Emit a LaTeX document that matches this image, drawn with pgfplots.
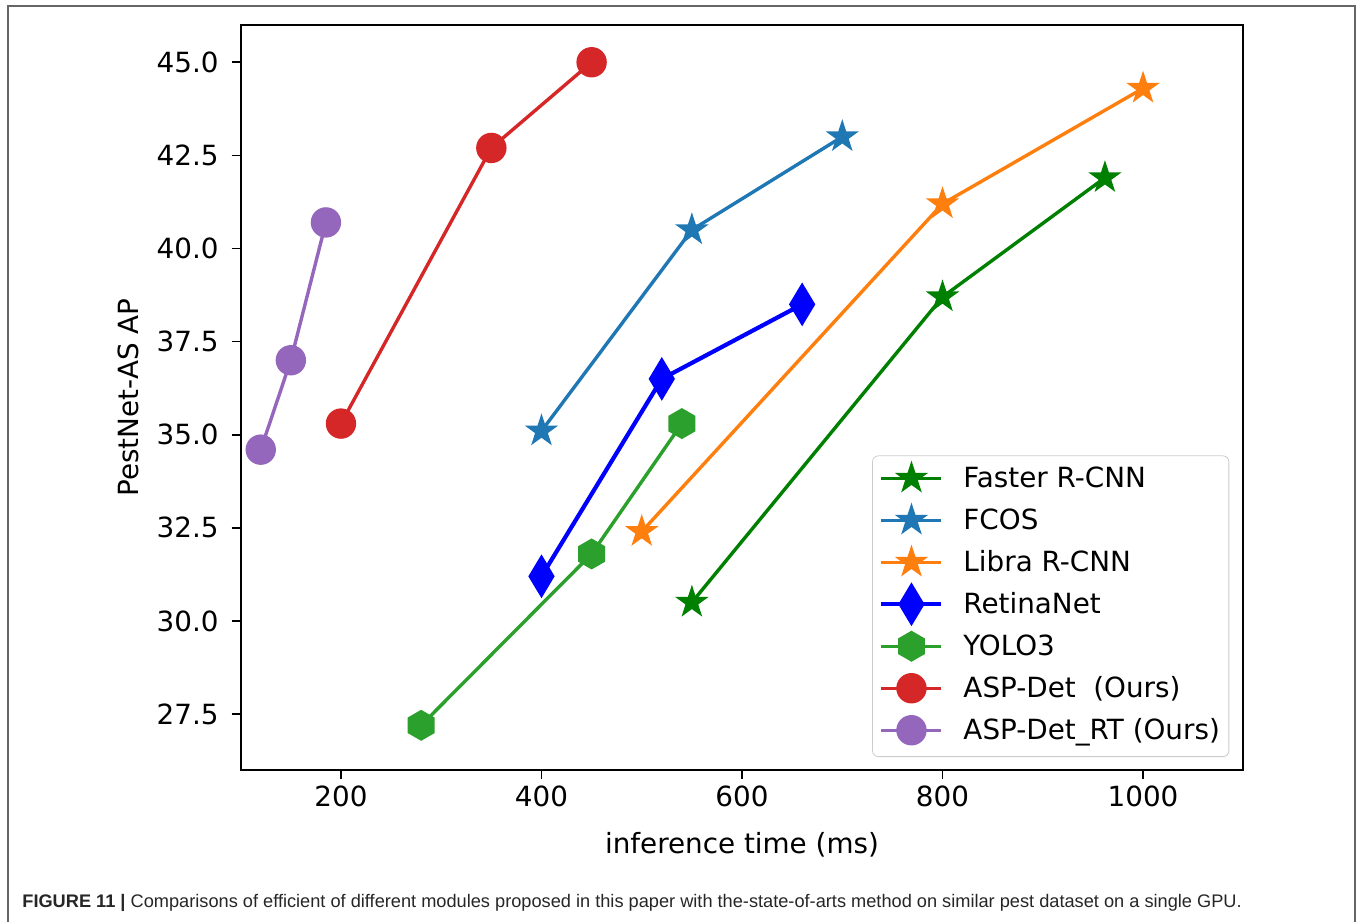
\documentclass[border=0pt]{standalone}
\usepackage{pgfplots}
\pgfplotsset{compat=1.18}
\usepackage{fontspec}
\setmainfont{DejaVu Sans}
\newfontfamily\capfont{Liberation Sans}
\usetikzlibrary{plotmarks}

\definecolor{mplgreen}{HTML}{008000}
\definecolor{tabblue}{HTML}{1F77B4}
\definecolor{taborange}{HTML}{FF7F0E}
\definecolor{mplblue}{HTML}{0000FF}
\definecolor{tabgreen}{HTML}{2CA02C}
\definecolor{tabred}{HTML}{D62728}
\definecolor{tabpurple}{HTML}{9467BD}

% filled five-pointed star (matplotlib '*')
\pgfdeclareplotmark{fstar}{%
  \pgfpathmoveto{\pgfpointpolar{90}{\pgfplotmarksize}}%
  \pgfpathlineto{\pgfpointpolar{126}{0.382\pgfplotmarksize}}%
  \pgfpathlineto{\pgfpointpolar{162}{\pgfplotmarksize}}%
  \pgfpathlineto{\pgfpointpolar{198}{0.382\pgfplotmarksize}}%
  \pgfpathlineto{\pgfpointpolar{234}{\pgfplotmarksize}}%
  \pgfpathlineto{\pgfpointpolar{270}{0.382\pgfplotmarksize}}%
  \pgfpathlineto{\pgfpointpolar{306}{\pgfplotmarksize}}%
  \pgfpathlineto{\pgfpointpolar{342}{0.382\pgfplotmarksize}}%
  \pgfpathlineto{\pgfpointpolar{18}{\pgfplotmarksize}}%
  \pgfpathlineto{\pgfpointpolar{54}{0.382\pgfplotmarksize}}%
  \pgfpathclose
  \pgfusepathqfillstroke
}
% filled hexagon, vertex up (matplotlib 'h')
\pgfdeclareplotmark{fhex}{%
  \pgfpathmoveto{\pgfpointpolar{90}{\pgfplotmarksize}}%
  \pgfpathlineto{\pgfpointpolar{150}{\pgfplotmarksize}}%
  \pgfpathlineto{\pgfpointpolar{210}{\pgfplotmarksize}}%
  \pgfpathlineto{\pgfpointpolar{270}{\pgfplotmarksize}}%
  \pgfpathlineto{\pgfpointpolar{330}{\pgfplotmarksize}}%
  \pgfpathlineto{\pgfpointpolar{30}{\pgfplotmarksize}}%
  \pgfpathclose
  \pgfusepathqfillstroke
}
% thin diamond (matplotlib 'd')
\pgfdeclareplotmark{fdiam}{%
  \pgfpathmoveto{\pgfqpoint{0pt}{1.414\pgfplotmarksize}}%
  \pgfpathlineto{\pgfqpoint{0.849\pgfplotmarksize}{0pt}}%
  \pgfpathlineto{\pgfqpoint{0pt}{-1.414\pgfplotmarksize}}%
  \pgfpathlineto{\pgfqpoint{-0.849\pgfplotmarksize}{0pt}}%
  \pgfpathclose
  \pgfusepathqfillstroke
}

\newcommand{\chartfont}{\fontsize{13.9}{16.5}\selectfont}

\begin{document}
\begin{tikzpicture}
\path[use as bounding box] (0,0) rectangle (680pt,461pt);
\draw[line width=0.8pt, black!60] (4pt,0pt) -- (4pt,458pt) -- (677.5pt,458pt) -- (677.5pt,0pt);
\node[anchor=base west, inner sep=0pt, font=\capfont\fontsize{9.1}{10}\selectfont, text=black!85]
  at (11pt,7.5pt) {\textbf{FIGURE 11 |} Comparisons of efficient of different modules proposed in this paper with the-state-of-arts method on similar pest dataset on a single GPU.};

\begin{axis}[
    at={(120.35pt,76pt)}, anchor=south west,
    scale only axis,
    width=501.3pt, height=372.5pt,
    xmin=100, xmax=1100,
    ymin=26, ymax=46,
    xtick={200,400,600,800,1000},
    ytick={27.5,30,32.5,35,37.5,40,42.5,45},
    tick align=outside,
    major tick length=4.5pt,
    tick style={black, line width=0.8pt},
    axis line style={line width=0.9pt},
    xtick pos=bottom, ytick pos=left,
    tick label style={font=\chartfont},
    /pgf/number format/assume math mode=true,
    yticklabel style={xshift=-3pt, /pgf/number format/.cd, fixed, fixed zerofill, precision=1},
    xticklabel style={/pgf/number format/.cd, 1000 sep={}},
    xlabel={inference time (ms)},
    ylabel={PestNet-AS AP},
    label style={font=\chartfont},
    xlabel style={at={(axis description cs:0.5,-0.1114)}, anchor=base},
    ylabel style={at={(axis description cs:-0.1124,0.5)}, anchor=center},
    legend cell align=left,
    legend style={
        at={(0.986,0.0174)}, anchor=south east,
        font=\chartfont,
        draw=black!20, rounded corners=3pt,
        fill=white,
        inner xsep=4.5pt, inner ysep=5.5pt,
        row sep=7.6pt,
        nodes={inner sep=0pt, text height=10.4pt, text depth=3pt},
        /tikz/every odd column/.append style={column sep=11pt},
    },
    legend image code/.code={
        \begin{pgfinterruptboundingbox}
        \draw[mark repeat=2,mark phase=2, rounded corners=0pt] plot coordinates {(0pt,1pt)(15pt,1pt)(30pt,1pt)};
        \end{pgfinterruptboundingbox}
        \path[draw=none, fill=none] (0pt,-1pt) rectangle (30pt,3pt);
    },
]

\addplot[color=mplgreen, line width=1.7pt, mark=fstar, mark size=7.5pt,
    mark options={line width=0.8pt}]
    coordinates {(550,30.5)(800,38.7)(962,41.9)};
\addplot[color=tabblue, line width=1.7pt, mark=fstar, mark size=7.5pt,
    mark options={line width=0.8pt}]
    coordinates {(400,35.1)(550,40.5)(700,43.0)};
\addplot[color=taborange, line width=1.7pt, mark=fstar, mark size=7.5pt,
    mark options={line width=0.8pt}]
    coordinates {(500,32.4)(800,41.2)(1000,44.3)};
\addplot[color=mplblue, line width=2.1pt, mark=fdiam, mark size=7.2pt,
    mark options={line width=0.8pt}]
    coordinates {(400,31.2)(520,36.5)(660,38.5)};
\addplot[color=tabgreen, line width=1.7pt, mark=fhex, mark size=7.3pt,
    mark options={line width=0.8pt}]
    coordinates {(280,27.2)(450,31.8)(540,35.3)};
\addplot[color=tabred, line width=1.7pt, mark=*, mark size=7.2pt,
    mark options={line width=0.8pt}]
    coordinates {(200,35.3)(350,42.7)(450,45.0)};
\addplot[color=tabpurple, line width=1.7pt, mark=*, mark size=7.2pt,
    mark options={line width=0.8pt}]
    coordinates {(120,34.6)(150,37.0)(185,40.7)};

\legend{Faster R-CNN, FCOS, Libra R-CNN, RetinaNet, YOLO3, ASP-Det~~(Ours), ASP-Det\_RT (Ours)}
\end{axis}
\end{tikzpicture}
\end{document}
